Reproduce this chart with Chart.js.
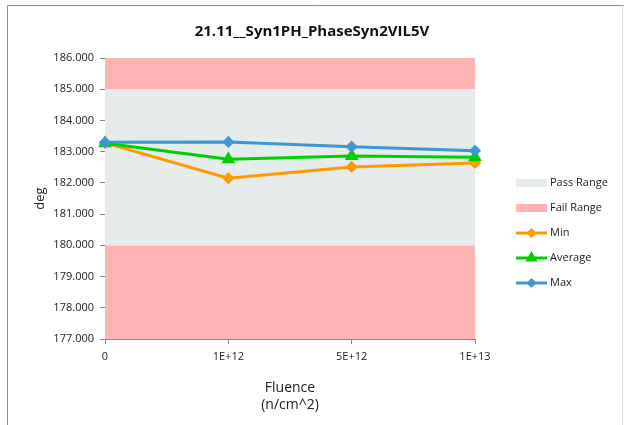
<!DOCTYPE html>
<html>
<head>
<meta charset="utf-8">
<script src="https://cdn.jsdelivr.net/npm/chart.js@4/dist/chart.umd.min.js"></script>
<style>
  html, body { margin: 0; padding: 0; background: #fff; }
  #wrap { width: 624px; height: 425px; position: relative; }
</style>
</head>
<body>
<div id="wrap"><canvas id="chart" width="624" height="425"></canvas></div>
<script>
// Chart data
const fluence = ["0", "1E+12", "5E+12", "1E+13"];
const minValues = [183.28, 182.15, 182.51, 182.64];
const avgValues = [183.27, 182.76, 182.86, 182.82];
const maxValues = [183.30, 183.31, 183.16, 183.03];
const passRange = [180, 185];
const failRanges = [[177, 180], [185, 186]];
const yMin = 177;
const yMax = 186;

const PASS_COLOR = "#E6EBEB";
const FAIL_COLOR = "#FFB3B3";
const MIN_COLOR = "#FF9900";
const AVG_COLOR = "#00D000";
const MAX_COLOR = "#3D98CF";
const FONT = "'Open Sans', 'Liberation Sans', sans-serif";

// Draws the pass / fail bands behind the lines
const bandsPlugin = {
  id: "bands",
  beforeDatasetsDraw(chart) {
    const { ctx, chartArea, scales } = chart;
    const y = scales.y;
    ctx.save();
    failRanges.forEach(([lo, hi]) => {
      const top = y.getPixelForValue(hi);
      const bottom = y.getPixelForValue(lo);
      ctx.fillStyle = FAIL_COLOR;
      ctx.fillRect(chartArea.left, top, chartArea.right - chartArea.left, bottom - top);
    });
    const pTop = y.getPixelForValue(passRange[1]);
    const pBottom = y.getPixelForValue(passRange[0]);
    ctx.fillStyle = PASS_COLOR;
    ctx.fillRect(chartArea.left, pTop, chartArea.right - chartArea.left, pBottom - pTop);
    ctx.restore();
  },
};

// Outer frame like the spreadsheet chart border
const framePlugin = {
  id: "frame",
  afterDraw(chart) {
    const { ctx } = chart;
    ctx.save();
    ctx.strokeStyle = "#8c8c8c";
    ctx.lineWidth = 1;
    ctx.beginPath();
    ctx.moveTo(7.5, chart.height);
    ctx.lineTo(7.5, 5.5);
    ctx.lineTo(chart.width, 5.5);
    ctx.stroke();
    ctx.strokeStyle = "#d9d9d9";
    ctx.beginPath();
    ctx.moveTo(622.5, 5.5);
    ctx.lineTo(622.5, chart.height);
    ctx.stroke();
    ctx.restore();
  },
};

// Legend on the right: boxes for ranges, line + marker for series
const legendPlugin = {
  id: "sideLegend",
  afterDraw(chart) {
    const { ctx, chartArea } = chart;
    const x0 = chartArea.right + 41;
    const items = [
      { label: "Pass Range", box: PASS_COLOR },
      { label: "Fail Range", box: FAIL_COLOR },
      { label: "Min", line: MIN_COLOR, marker: "rectRot" },
      { label: "Average", line: AVG_COLOR, marker: "triangle" },
      { label: "Max", line: MAX_COLOR, marker: "rectRot" },
    ];
    ctx.save();
    ctx.font = "11px " + FONT;
    ctx.textBaseline = "middle";
    items.forEach((item, i) => {
      const yc = 183 + i * 25;
      if (item.box) {
        ctx.fillStyle = item.box;
        ctx.fillRect(x0, yc - 4, 31, 8);
      } else {
        ctx.strokeStyle = item.line;
        ctx.lineWidth = 3;
        ctx.beginPath();
        ctx.moveTo(x0, yc);
        ctx.lineTo(x0 + 31, yc);
        ctx.stroke();
        ctx.fillStyle = item.line;
        Chart.helpers.drawPoint(ctx, {
          pointStyle: item.marker,
          radius: item.marker === "triangle" ? 4 : 3,
          borderWidth: 1,
          rotation: 0,
        }, x0 + 15.5, yc);
      }
      ctx.fillStyle = "#222";
      ctx.fillText(item.label, x0 + 34, yc);
    });
    ctx.restore();
  },
};

const lineSet = (label, data, color, style, radius, order) => ({
  label,
  data,
  borderColor: color,
  backgroundColor: color,
  pointBorderColor: color,
  pointBackgroundColor: color,
  borderWidth: 3,
  pointStyle: style,
  pointRadius: radius,
  pointHoverRadius: radius,
  tension: 0,
  fill: false,
  order,
});

new Chart(document.getElementById("chart"), {
  type: "line",
  data: {
    labels: fluence,
    datasets: [
      lineSet("Min", minValues, MIN_COLOR, "rectRot", 4, 3),
      lineSet("Average", avgValues, AVG_COLOR, "triangle", 5, 2),
      lineSet("Max", maxValues, MAX_COLOR, "rectRot", 4, 1),
    ],
  },
  options: {
    responsive: false,
    animation: false,
    layout: { padding: { left: 0, right: 0, top: 0, bottom: 12 } },
    plugins: {
      legend: { display: false },
      tooltip: { enabled: false },
      title: {
        display: true,
        text: "21.11__Syn1PH_PhaseSyn2VIL5V",
        color: "#111",
        font: { family: FONT, size: 15, weight: "bold" },
        padding: { top: 23, bottom: 17 },
      },
    },
    scales: {
      x: {
        type: "category",
        offset: false,
        grid: { display: true, drawOnChartArea: false, drawTicks: true, tickLength: 5, color: "#868686" },
        border: { display: true, color: "#868686" },
        ticks: { color: "#222", font: { family: FONT, size: 11 }, padding: 6, maxRotation: 0 },
        title: {
          display: true,
          text: ["Fluence", "(n/cm^2)"],
          color: "#222",
          font: { family: FONT, size: 14 },
          padding: { top: 6, bottom: 0 },
        },
        afterFit(scale) { scale.height = 74; },
      },
      y: {
        min: yMin,
        max: yMax,
        grid: { display: true, drawOnChartArea: false, drawTicks: true, tickLength: 5, color: "#868686" },
        border: { display: true, color: "#868686" },
        ticks: {
          stepSize: 1,
          color: "#222",
          font: { family: FONT, size: 11 },
          padding: 6,
          callback: (v) => Number(v).toFixed(3),
        },
        title: {
          display: true,
          text: "deg",
          color: "#222",
          font: { family: FONT, size: 13 },
          padding: { top: 32, bottom: 4 },
        },
        afterFit(scale) { scale.width = 105; },
      },
      // empty right-hand box that reserves room for the legend
      legendSpace: {
        type: "linear",
        position: "right",
        display: true,
        grid: { display: false },
        border: { display: false },
        ticks: { display: false },
        afterFit(scale) { scale.width = 149; },
      },
    },
  },
  plugins: [bandsPlugin, framePlugin, legendPlugin],
});
</script>
</body>
</html>
